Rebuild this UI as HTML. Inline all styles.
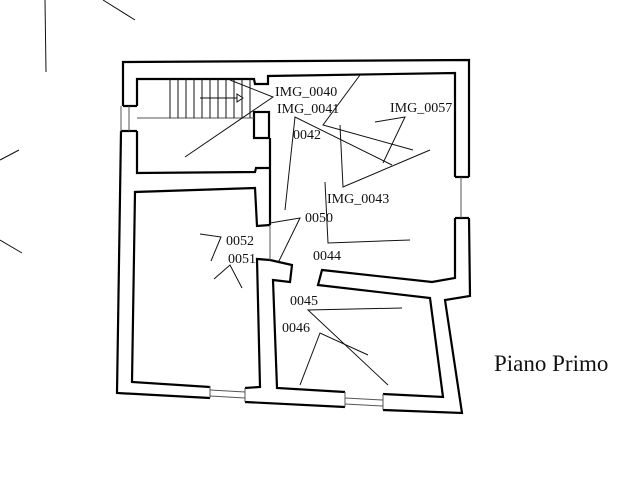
<!DOCTYPE html>
<html><head><style>
html,body{margin:0;padding:0;background:#fff;width:634px;height:499px;overflow:hidden}
svg{display:block}
text{font-family:"Liberation Serif",serif;fill:#111}
</style></head><body>
<svg width="634" height="499" viewBox="0 0 634 499" xmlns="http://www.w3.org/2000/svg">
<g fill="none" stroke="#111" stroke-width="1">
<line x1="45" y1="0" x2="46" y2="72"/>
<line x1="103" y1="0" x2="135" y2="20"/>
<line x1="0" y1="160" x2="19" y2="150"/>
<line x1="0" y1="240" x2="22" y2="253"/>
</g>
<g fill="none" stroke="#000" stroke-width="2.2" stroke-linejoin="miter">
<polyline points="123,106 123,62 469,60 469,177"/>
<polyline points="469,218 470,296 445,300 462,413 383,410"/>
<polyline points="345,407 245,402"/>
<polyline points="210,398 117,393 121,131"/>
<line x1="123" y1="106" x2="137" y2="106"/>
<line x1="121" y1="131" x2="137" y2="131"/>
<line x1="455" y1="177" x2="469" y2="177"/>
<line x1="455" y1="218" x2="469" y2="218"/>
<polyline points="137,106 137,79 254,79 255,84 268,84 268,76 455,73 455,177"/>
<polyline points="137,131 137,173 255,172 256,168 270,168"/>
<rect x="254" y="112" width="15" height="26"/>
<line x1="270" y1="138" x2="270" y2="225"/>
<polyline points="210,387 132,382 135,192 255,188 257,226 270,225"/>
<polyline points="270,260 257,259 260,387 245,388"/>
<polyline points="455,218 455,278 432,282 322,270 318,285 430,298 443,397 383,394"/>
<polyline points="345,392 277,388 273,280 290,282 292,265 270,260"/>
</g>
<g stroke="#555" stroke-width="1" fill="none">
<line x1="137" y1="118" x2="254" y2="118"/>
<line x1="121" y1="106" x2="121" y2="131"/><line x1="129" y1="106" x2="129" y2="131"/>
<line x1="461" y1="177" x2="461" y2="218"/>
<line x1="270" y1="225" x2="270" y2="260"/>
<line x1="210" y1="390" x2="245" y2="392"/><line x1="210" y1="396" x2="245" y2="398"/>
<line x1="345" y1="398" x2="383" y2="400"/><line x1="345" y1="404" x2="383" y2="406"/>
<line x1="210" y1="386" x2="210" y2="398"/><line x1="245" y1="388" x2="245" y2="402"/>
<line x1="345" y1="392" x2="345" y2="407"/><line x1="383" y1="394" x2="383" y2="410"/>
</g>
<g stroke="#111" stroke-width="1" fill="none">
<line x1="170" y1="79" x2="170" y2="118"/>
<line x1="178" y1="79" x2="178" y2="118"/>
<line x1="186" y1="79" x2="186" y2="118"/>
<line x1="194" y1="79" x2="194" y2="118"/>
<line x1="202" y1="79" x2="202" y2="118"/>
<line x1="210" y1="79" x2="210" y2="118"/>
<line x1="218" y1="79" x2="218" y2="118"/>
<line x1="226" y1="79" x2="226" y2="118"/>
<line x1="234" y1="79" x2="234" y2="118"/>
<line x1="242" y1="79" x2="242" y2="118"/>
<line x1="250" y1="79" x2="250" y2="118"/>
<line x1="200" y1="98" x2="237" y2="98"/>
<polygon points="237,94 243,98 237,102" fill="#fff"/>
<polyline points="230,80 273,97 185,157"/>
<polyline points="360,75 323,125 413,150"/>
<polyline points="392,165 295,117 285,210"/>
<polyline points="340,125 343,187 430,150"/>
<polyline points="375,122 405,117 383,163"/>
<polyline points="325,182 328,243 410,240"/>
<polyline points="270,223 300,218 278,263"/>
<polyline points="200,234 221,237 211,261"/>
<polyline points="214,279 230,265 242,288"/>
<polyline points="402,308 308,310 388,385"/>
<polyline points="300,385 320,333 368,355"/>
</g>
<g font-size="14">
<text x="275" y="96">IMG_0040</text>
<text x="277" y="113">IMG_0041</text>
<text x="390" y="112">IMG_0057</text>
<text x="293" y="139">0042</text>
<text x="327" y="203">IMG_0043</text>
<text x="305" y="222">0050</text>
<text x="226" y="245">0052</text>
<text x="228" y="263">0051</text>
<text x="313" y="260">0044</text>
<text x="290" y="305">0045</text>
<text x="282" y="332">0046</text>
</g>
<text x="494" y="371" font-size="23">Piano Primo</text>
</svg>
</body></html>
